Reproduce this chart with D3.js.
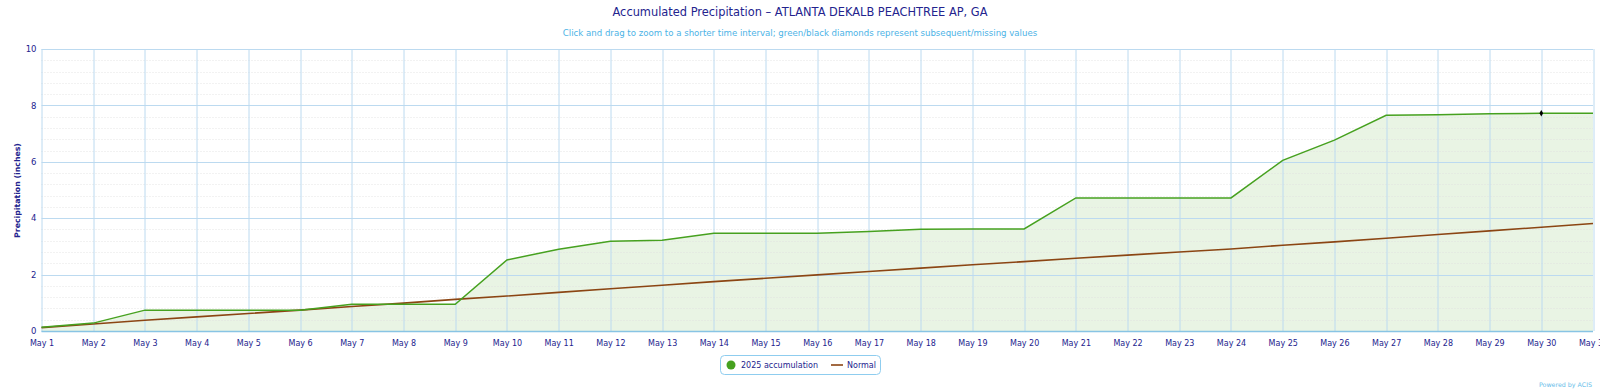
<!DOCTYPE html>
<html>
<head>
<meta charset="utf-8">
<script src="https://cdn.jsdelivr.net/npm/d3@7"></script>
<style>
  html, body { margin: 0; padding: 0; background: #fff; }
  svg { display: block; }
</style>
</head>
<body>
<script>
const WIDTH = 1600;
const HEIGHT = 390;
const MARGIN = { top: 49, right: 7, bottom: 59, left: 41.5 };
const FONT = "'DejaVu Sans', Verdana, sans-serif";
const NAVY = "#23238e";

// data
const days = d3.range(1, 32);
const dayLabels = days.map((d) => `May ${d}`);
const accum2025 = [
  0.13, 0.28, 0.74, 0.74, 0.74, 0.74, 0.95, 0.95, 0.95, 2.52,
  2.90, 3.18, 3.22, 3.47, 3.47, 3.47, 3.53, 3.61, 3.62, 3.62,
  4.72, 4.72, 4.72, 4.72, 6.05, 6.77, 7.65, 7.67, 7.70, 7.72, 7.72,
];
const normal = [
  0.12, 0.25, 0.38, 0.50, 0.62, 0.74, 0.87, 0.99, 1.12, 1.24,
  1.37, 1.50, 1.62, 1.75, 1.87, 1.99, 2.11, 2.23, 2.35, 2.46,
  2.58, 2.69, 2.80, 2.91, 3.04, 3.16, 3.29, 3.42, 3.55, 3.68, 3.81,
];
const missingDays = [30]; // black diamond
const yTicks = [0, 2, 4, 6, 8, 10];
const yMinorTicks = d3.range(0, 10.01, 0.4);

const innerW = WIDTH - MARGIN.left - MARGIN.right;
const innerH = HEIGHT - MARGIN.top - MARGIN.bottom;

const x = d3.scaleLinear().domain([1, 31]).range([0, innerW]);
const y = d3.scaleLinear().domain([0, 10]).range([innerH, 0]);

const svg = d3.select("body").append("svg")
  .attr("width", WIDTH)
  .attr("height", HEIGHT)
  .attr("font-family", FONT);

svg.append("rect").attr("width", WIDTH).attr("height", HEIGHT).attr("fill", "#fff");

// Title & subtitle
svg.append("text")
  .attr("x", 800).attr("y", 16)
  .attr("text-anchor", "middle")
  .attr("fill", NAVY)
  .attr("font-size", "11.4px")
  .text("Accumulated Precipitation \u2013 ATLANTA DEKALB PEACHTREE AP, GA");
svg.append("text")
  .attr("x", 800).attr("y", 36)
  .attr("text-anchor", "middle")
  .attr("fill", "#4cb3e6")
  .attr("font-size", "8.6px")
  .text("Click and drag to zoom to a shorter time interval; green/black diamonds represent subsequent/missing values");

const g = svg.append("g").attr("transform", `translate(${MARGIN.left},${MARGIN.top})`);

// area under 2025 accumulation
const series = days.map((d, i) => ({ day: d, acc: accum2025[i], norm: normal[i] }));

g.append("path")
  .datum(series)
  .attr("fill", "#4aa523")
  .attr("fill-opacity", 0.12)
  .attr("d", d3.area().x((d) => x(d.day)).y0(y(0)).y1((d) => y(d.acc)));

// minor dotted grid
g.append("g")
  .selectAll("line")
  .data(yMinorTicks.filter((v) => !yTicks.some((t) => Math.abs(t - v) < 1e-6)))
  .join("line")
  .attr("x1", 0).attr("x2", innerW)
  .attr("y1", (d) => Math.round(y(d)) + 0.5).attr("y2", (d) => Math.round(y(d)) + 0.5)
  .attr("stroke", "#dedede")
  .attr("stroke-opacity", 0.8)
  .attr("stroke-dasharray", "1,2");

// major horizontal grid
g.append("g")
  .selectAll("line")
  .data(yTicks)
  .join("line")
  .attr("x1", 0).attr("x2", innerW)
  .attr("y1", (d) => Math.round(y(d)) + 0.5).attr("y2", (d) => Math.round(y(d)) + 0.5)
  .attr("stroke", "#bcdaf0");

// vertical grid, one per day
g.append("g")
  .selectAll("line")
  .data(days)
  .join("line")
  .attr("x1", (d) => Math.round(x(d)) + 0.5).attr("x2", (d) => Math.round(x(d)) + 0.5)
  .attr("y1", 0).attr("y2", innerH)
  .attr("stroke", "#bcdaf0");

// x axis line
g.append("line")
  .attr("x1", 0).attr("x2", innerW)
  .attr("y1", innerH + 0.5).attr("y2", innerH + 0.5)
  .attr("stroke", "#88c4e4")
  .attr("stroke-width", 1.5);

// normal line
g.append("path")
  .datum(series)
  .attr("fill", "none")
  .attr("stroke", "#8b4513")
  .attr("stroke-width", 1.6)
  .attr("d", d3.line().x((d) => x(d.day)).y((d) => y(d.norm)));

// 2025 accumulation line
g.append("path")
  .datum(series)
  .attr("fill", "none")
  .attr("stroke", "#46a11f")
  .attr("stroke-width", 1.5)
  .attr("d", d3.line().x((d) => x(d.day)).y((d) => y(d.acc)));

// missing-value diamonds
g.append("g")
  .selectAll("path")
  .data(series.filter((d) => missingDays.includes(d.day)))
  .join("path")
  .attr("transform", (d) => `translate(${x(d.day)},${y(d.acc)})`)
  .attr("d", d3.symbol(d3.symbolDiamond, 12))
  .attr("fill", "#000");

// Y axis labels
const yAxis = g.append("g")
  .call(d3.axisLeft(y).tickValues(yTicks).tickSize(0).tickPadding(5));
yAxis.select(".domain").remove();
yAxis.selectAll("text")
  .attr("fill", NAVY)
  .attr("font-size", "8.5px")
  .attr("font-family", FONT);

// X axis labels
const xAxis = g.append("g")
  .attr("transform", `translate(0,${innerH})`)
  .call(d3.axisBottom(x).tickValues(days).tickFormat((d) => dayLabels[d - 1]).tickSize(0).tickPadding(9));
xAxis.select(".domain").remove();
xAxis.selectAll("text")
  .attr("fill", NAVY)
  .attr("font-size", "8px")
  .attr("font-family", FONT);

// Y axis title
svg.append("text")
  .attr("transform", `translate(19.5,${MARGIN.top + innerH / 2 + 0.5}) rotate(-90)`)
  .attr("text-anchor", "middle")
  .attr("fill", NAVY)
  .attr("font-size", "7.8px")
  .attr("font-weight", "bold")
  .text("Precipitation (inches)");

// Legend
const legend = svg.append("g").attr("transform", "translate(720,355)");
legend.append("rect")
  .attr("x", 0.5).attr("y", 0.5)
  .attr("width", 160).attr("height", 19)
  .attr("rx", 4)
  .attr("fill", "#fff")
  .attr("stroke", "#8fcdef");
legend.append("circle")
  .attr("cx", 11).attr("cy", 10)
  .attr("r", 4.5)
  .attr("fill", "#46a11f");
legend.append("text")
  .attr("x", 21).attr("y", 13)
  .attr("fill", NAVY)
  .attr("font-size", "8px")
  .text("2025 accumulation");
legend.append("line")
  .attr("x1", 111).attr("x2", 123)
  .attr("y1", 10).attr("y2", 10)
  .attr("stroke", "#8b4513")
  .attr("stroke-width", 1.6);
legend.append("text")
  .attr("x", 127).attr("y", 13)
  .attr("fill", NAVY)
  .attr("font-size", "8px")
  .text("Normal");

// credits
svg.append("text")
  .attr("x", 1592).attr("y", 387)
  .attr("text-anchor", "end")
  .attr("fill", "#66bde9")
  .attr("font-size", "6.3px")
  .text("Powered by ACIS");
</script>
</body>
</html>
